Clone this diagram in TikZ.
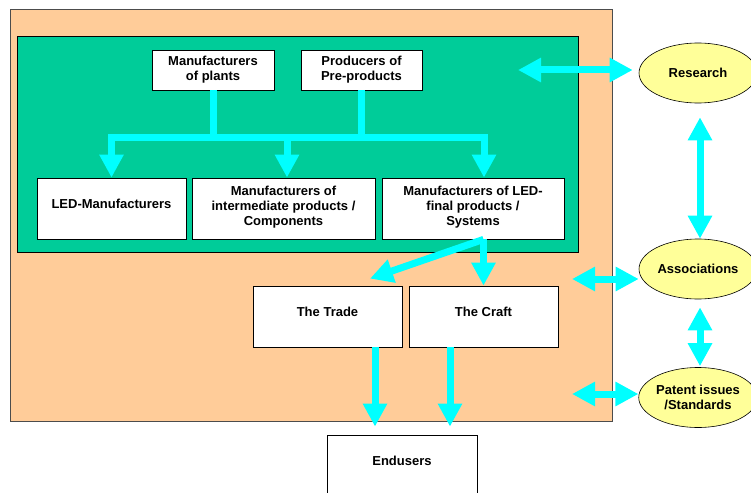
\documentclass[tikz,border=0pt]{standalone}
\usepackage{fontspec}
\setmainfont{Liberation Sans}
\usetikzlibrary{arrows.meta}
\usetikzlibrary{shapes.geometric}
\definecolor{peach}{RGB}{255,204,153}
\definecolor{seagreen}{RGB}{0,204,153}
\definecolor{paleyellow}{RGB}{255,255,153}
\definecolor{aqua}{RGB}{0,255,255}
\tikzset{>={Triangle[width=23pt,length=23pt]}}
\tikzset{
  box/.style={draw, fill=white, align=center, inner sep=0pt, line width=.8pt,
    font=\bfseries\fontsize{13}{15}\selectfont},
  oval/.style={ellipse, draw, fill=paleyellow, align=center, inner sep=0pt, line width=.6pt,
    minimum width=118pt, minimum height=60pt, font=\bfseries\fontsize{13}{15}\selectfont},
  pipe/.style={aqua, line width=7pt}
}

\begin{document}
\begin{tikzpicture}[x=1pt,y=-1pt]
\clip (0,0) rectangle (751,492);
\draw[line width=.8pt, gray!60!black, fill=peach] (10,9) rectangle (612,421);
\draw[line width=.8pt, fill=seagreen] (17,36) rectangle (578,252);

\node[box, minimum width=122pt, minimum height=40pt] (plants) at (213,70) {Manufacturers\\of plants};
\node[box, minimum width=121pt, minimum height=40pt] (pre) at (361.5,70) {Producers of\\Pre-products};
\node[box, minimum width=149pt, minimum height=61pt, text depth=10pt] (ledman) at (111.5,208.5) {LED-Manufacturers};
\node[box, minimum width=183pt, minimum height=61pt, text depth=6pt] (inter) at (283.5,208.5) {Manufacturers of\\intermediate products /\\Components};
\node[box, minimum width=182pt, minimum height=61pt, text depth=6pt] (final) at (473,208.5) {Manufacturers of LED-\\final products /\\Systems};
\node[box, minimum width=149pt, minimum height=61pt, text depth=10pt] (trade) at (327.5,316.5) {The Trade};
\node[box, minimum width=149pt, minimum height=61pt, text depth=10pt] (craft) at (483.5,316.5) {The Craft};
\node[box, minimum width=150pt, minimum height=61pt, text depth=10pt] (endusers) at (402,465.5) {Endusers};

\node[oval] (research) at (698,73) {Research};
\node[oval] (assoc) at (698,269) {Associations};
\node[oval] (patent) at (698,397.5) {Patent issues\\/Standards};

\coordinate (bar) at (0,137);
\coordinate (intin) at ([xshift=3.5pt]inter.north);
\coordinate (finin) at ([xshift=11pt]final.north);
\draw[pipe] (plants.south) -- (plants.south |- bar);
\draw[pipe] (pre.south) -- (pre.south |- bar);
\draw[pipe, line cap=rect] (ledman.north |- bar) -- (finin |- bar);
\draw[pipe,->] (ledman.north |- bar) -- (ledman.north);
\draw[pipe,->] (intin |- bar) -- (intin);
\draw[pipe,->] (finin |- bar) -- (finin);

\coordinate (finout) at (final.south -| craft.north);
\draw[pipe,->] (finout) -- ([xshift=42.5pt,yshift=7pt]trade.north);
\draw[pipe,->] (finout) -- (craft.north);

\coordinate (tradeout) at ([xshift=47.5pt]trade.south);
\coordinate (craftout) at ([xshift=-33.5pt]craft.south);
\draw[pipe,->,shorten >=8pt] (tradeout) -- (tradeout |- endusers.north);
\draw[pipe,->,shorten >=8pt] (craftout) -- (craftout |- endusers.north);

\coordinate (rs) at (518,70);
\coordinate (as) at (572,279);
\coordinate (ps) at (572,394);
\draw[pipe,<->] (rs) -- ([xshift=-6pt]rs -| research.west);
\draw[pipe,<->] (as) -- (as -| assoc.west);
\draw[pipe,<->] (ps) -- (ps -| patent.west);
\draw[pipe,<->,shorten <=14pt] ([xshift=2pt]research.south) -- ([xshift=2pt]assoc.north);
\draw[pipe,<->,shorten <=8pt,shorten >=1pt] ([xshift=2pt]assoc.south) -- ([xshift=2pt]patent.north);
\end{tikzpicture}
\end{document}
